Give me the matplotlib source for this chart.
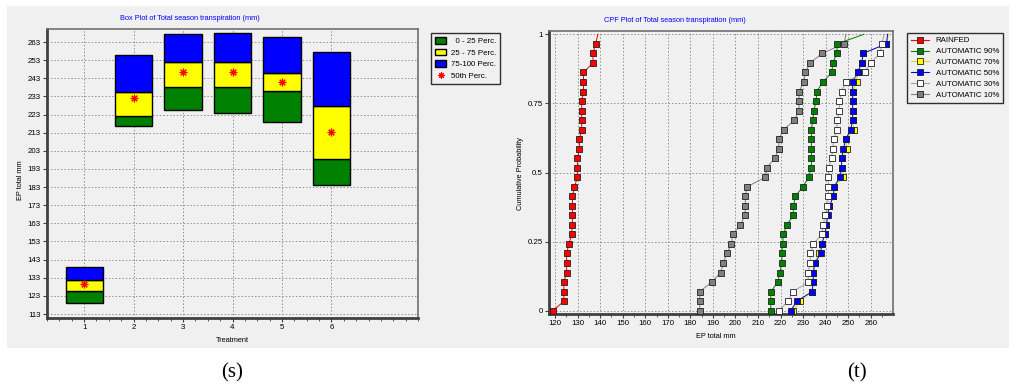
import matplotlib
matplotlib.use("Agg")
import matplotlib.pyplot as plt
from matplotlib.patches import Rectangle, Patch
from matplotlib.lines import Line2D
from matplotlib.ticker import MultipleLocator

plt.rcParams["font.family"] = ["Liberation Sans", "DejaVu Sans"]

W, H = 1009, 389
BG = "#f0f0f0"

# box plot data (percentiles per treatment)
treatments = [1, 2, 3, 4, 5, 6]
p0 = [119.1, 216.5, 225.3, 224.0, 219.1, 184.3]
p25 = [125.9, 222.0, 238.4, 238.4, 235.8, 198.5]
p50 = [129.5, 231.9, 246.6, 246.3, 241.1, 213.2]
p75 = [131.8, 235.4, 252.0, 252.0, 245.7, 227.9]
p100 = [138.9, 255.6, 267.2, 268.0, 265.8, 257.3]
box_ticks = [113, 123, 133, 143, 153, 163, 173, 183, 193, 203, 213, 223, 233, 243, 253, 263]

# CDF data
cum_prob = [0.0, 0.034, 0.069, 0.103, 0.138, 0.172, 0.207, 0.241, 0.276, 0.310,
            0.345, 0.379, 0.414, 0.448, 0.483, 0.517, 0.552, 0.586, 0.621, 0.655,
            0.690, 0.724, 0.759, 0.793, 0.828, 0.862, 0.897, 0.931, 0.966, 1.0]
rainfed = [119.0, 123.9, 123.9, 123.9, 125.1, 125.1, 125.1, 126.1, 127.3, 127.7,
           127.7, 127.7, 127.7, 128.6, 129.9, 129.9, 129.9, 130.8, 130.8, 131.8,
           131.8, 131.8, 131.8, 132.6, 132.6, 132.6, 136.8, 136.8, 138.0, 139.0]
auto90 = [215.7, 215.7, 215.7, 218.8, 219.7, 220.6, 220.6, 220.9, 221.3, 222.8,
          225.7, 225.7, 226.6, 229.9, 232.5, 233.7, 233.7, 233.7, 233.7, 233.7,
          234.3, 234.8, 235.8, 236.1, 238.8, 242.8, 243.2, 245.0, 245.2, 257.0]
auto70 = [225.6, 228.5, 234.0, 234.5, 234.6, 235.2, 237.0, 238.2, 239.7, 240.3,
          240.2, 241.7, 243.5, 243.7, 247.8, 247.1, 247.1, 249.4, 249.0, 252.6,
          252.0, 252.0, 252.0, 252.0, 253.8, 254.2, 256.0, 256.7, 267.0, 268.0]
auto50 = [224.5, 227.2, 234.0, 234.5, 234.6, 235.2, 237.9, 238.2, 239.7, 240.3,
          241.0, 241.7, 243.5, 243.7, 246.4, 247.1, 247.1, 247.9, 249.0, 251.1,
          252.0, 252.0, 252.0, 252.0, 252.0, 254.2, 256.0, 256.7, 267.0, 267.5]
auto30 = [219.3, 223.3, 225.5, 232.3, 232.3, 233.1, 233.3, 234.6, 238.2, 239.0,
          239.7, 240.8, 241.2, 241.2, 241.2, 241.3, 242.7, 243.1, 243.7, 244.9,
          245.2, 246.1, 246.1, 247.1, 249.0, 257.3, 260.0, 264.1, 265.0, 266.0]
auto10 = [184.2, 184.2, 184.2, 189.4, 193.5, 194.6, 196.2, 198.2, 198.8, 202.2,
          204.2, 204.4, 204.4, 205.1, 213.3, 213.9, 217.4, 219.3, 219.3, 221.4,
          226.2, 228.2, 228.2, 228.2, 230.4, 231.0, 233.2, 238.5, 248.2, 249.0]

series = [
    ("RAINFED", rainfed, "#ff0000", "#ff0000"),
    ("AUTOMATIC 90%", auto90, "#008000", "#008000"),
    ("AUTOMATIC 70%", auto70, "#ffff00", "#e0e000"),
    ("AUTOMATIC 50%", auto50, "#0000ff", "#0000ff"),
    ("AUTOMATIC 30%", auto30, "#ffffff", "#a0a0a0"),
    ("AUTOMATIC 10%", auto10, "#808080", "#808080"),
]


def px_axes(x0, y0, x1, y1):
    return [x0 / W, 1 - y1 / H, (x1 - x0) / W, (y1 - y0) / H]


def style_axes(ax):
    ax.set_facecolor(BG)
    for s in ["left", "bottom"]:
        ax.spines[s].set_linewidth(2.0)
        ax.spines[s].set_color("#404040")
    for s in ["top", "right"]:
        ax.spines[s].set_linewidth(1.2)
        ax.spines[s].set_color("#707070")
    ax.tick_params(which="major", length=3, width=0.8, color="#404040",
                   labelsize=5.7, pad=1.5)
    ax.tick_params(which="minor", length=2, width=0.6, color="#404040")
    ax.tick_params(axis="y", which="minor", length=0)
    ax.grid(True, which="major", linestyle=(0, (1.5, 2)), color="#909090", linewidth=0.7)
    ax.set_axisbelow(True)


fig = plt.figure(figsize=(W / 100, H / 100), dpi=100)
fig.patches.append(Rectangle((7 / W, 1 - 348 / H), 1 - 7 / W, 342 / H,
                             transform=fig.transFigure, facecolor=BG,
                             edgecolor="none", zorder=-10))

# ---- left: box plot
ax1 = fig.add_axes(px_axes(47, 29, 418, 318))
style_axes(ax1)
w = 0.75
lo = [b - a for a, b in zip(p0, p25)]
mid = [b - a for a, b in zip(p25, p75)]
hi = [b - a for a, b in zip(p75, p100)]
ax1.bar(treatments, lo, w, bottom=p0, color="#008000", edgecolor="black", linewidth=1.0, zorder=3)
ax1.bar(treatments, mid, w, bottom=p25, color="#ffff00", edgecolor="black", linewidth=1.0, zorder=3)
ax1.bar(treatments, hi, w, bottom=p75, color="#0000ff", edgecolor="black", linewidth=1.0, zorder=3)
ax1.plot(treatments, p50, linestyle="none", marker=(8, 2, 0), markersize=5.5,
         color="#ff0000", markeredgewidth=0.8, zorder=4)
ax1.set_xlim(0.25, 7.75)
ax1.set_ylim(110.8, 270.2)
ax1.set_xticks(treatments)
ax1.xaxis.set_minor_locator(MultipleLocator(0.25))
ax1.set_yticks(box_ticks)

leg1 = fig.legend(
    handles=[Patch(facecolor="#008000", edgecolor="black"),
             Patch(facecolor="#ffff00", edgecolor="black"),
             Patch(facecolor="#0000ff", edgecolor="black"),
             Line2D([], [], linestyle="none", marker=(8, 2, 0), color="#ff0000",
                    markersize=4.5, markeredgewidth=0.8)],
    labels=["  0 - 25 Perc.", "25 - 75 Perc.", "75-100 Perc.", "50th Perc."],
    loc="upper left", bbox_to_anchor=(431 / W, 1 - 33 / H), fontsize=5.7,
    frameon=True, fancybox=False, edgecolor="#303030", facecolor=BG, framealpha=1,
    handlelength=1.4, handleheight=0.9, handletextpad=0.6, labelspacing=0.45,
    borderpad=0.5, borderaxespad=0)
leg1.get_frame().set_linewidth(1.0)

fig.text(190 / W, 1 - 18 / H, "Box Plot of Total season transpiration (mm)",
         color="#0000ff", fontsize=5.3, ha="center", va="center")
fig.text(21 / W, 1 - 180 / H, "EP total mm", rotation=90, fontsize=5.3,
         ha="center", va="center")
fig.text(232 / W, 1 - 341 / H, "Treatment", fontsize=5.3, ha="center", va="center")

# ---- right: CDF plot
ax2 = fig.add_axes(px_axes(549, 31, 893, 314))
style_axes(ax2)
handles = []
for name, vals, face, line in series:
    ax2.plot(vals, cum_prob, color=line, linewidth=0.7, zorder=3)
    ax2.plot(vals[:-1], cum_prob[:-1], linestyle="none", marker="s", markersize=4.8,
             markerfacecolor=face, markeredgecolor="#202020", markeredgewidth=0.6,
             zorder=4)
    handles.append(Line2D([], [], color=line, linewidth=0.8, marker="s", markersize=4.8,
                          markerfacecolor=face, markeredgecolor="#202020",
                          markeredgewidth=0.6))
ax2.set_xlim(117.3, 269.9)
ax2.set_ylim(-0.012, 1.012)
ax2.set_xticks(list(range(120, 261, 10)))
ax2.xaxis.set_minor_locator(MultipleLocator(5))
ax2.set_yticks([0, 0.25, 0.5, 0.75, 1])
ax2.set_yticklabels(["0", "0.25", "0.5", "0.75", "1"])

leg2 = fig.legend(handles=handles, labels=[s[0] for s in series],
                  loc="upper left", bbox_to_anchor=(907 / W, 1 - 33 / H), fontsize=5.7,
                  frameon=True, fancybox=False, edgecolor="#303030", facecolor=BG,
                  framealpha=1, handlelength=2.3, handletextpad=0.8, labelspacing=0.42,
                  borderpad=0.5, borderaxespad=0)
leg2.get_frame().set_linewidth(1.0)

fig.text(675 / W, 1 - 20 / H, "CPF Plot of Total season transpiration (mm)",
         color="#0000ff", fontsize=5.3, ha="center", va="center")
fig.text(520 / W, 1 - 173 / H, "Cumulative Probability", rotation=90, fontsize=5.3,
         ha="center", va="center")
fig.text(716 / W, 1 - 337 / H, "EP total mm", fontsize=5.3, ha="center", va="center")

# captions
fig.text(232 / W, 1 - 373 / H, "(s)", family="Liberation Serif", fontsize=15,
         ha="center", va="center")
fig.text(857 / W, 1 - 373 / H, "(t)", family="Liberation Serif", fontsize=15,
         ha="center", va="center")

fig.savefig("out.png", dpi=100, facecolor="white")
